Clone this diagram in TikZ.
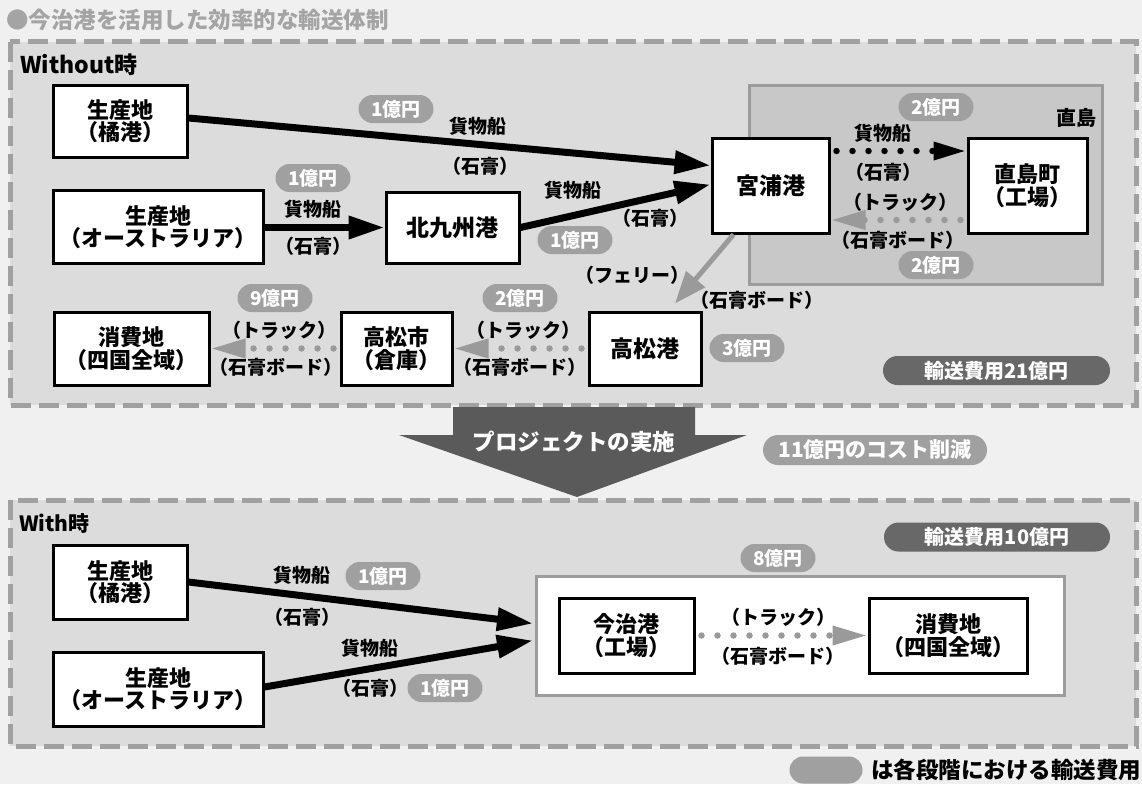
\documentclass[tikz,border=0pt]{standalone}
\usepackage{fontspec}
\setmainfont{Noto Sans CJK JP}
\usetikzlibrary{arrows.meta,calc,shapes.misc}
\definecolor{bg}{HTML}{F0F0F0}
\definecolor{panel}{HTML}{DCDCDC}
\definecolor{panelborder}{HTML}{A0A0A0}
\definecolor{pillgray}{HTML}{A0A0A0}
\definecolor{darkpill}{HTML}{686868}
\definecolor{bigarrow}{HTML}{5A5A5A}
\definecolor{islandfill}{HTML}{C8C8C8}
\definecolor{islandborder}{HTML}{9C9C9C}
\definecolor{titlegray}{HTML}{A4A4A4}
\definecolor{truckgray}{HTML}{9A9A9A}
\begin{document}
\begin{tikzpicture}[x=1pt,y=-1pt,
  box/.style={draw=black, line width=3pt, fill=white, align=center, inner sep=0pt,
    font=\bfseries\fontsize{22}{22.5}\selectfont},
  bigbox/.style={box, font=\bfseries\fontsize{23}{25}\selectfont},
  lbl/.style={font=\bfseries\fontsize{19}{21}\selectfont, inner sep=0pt},
  pill/.style={rounded rectangle, fill=pillgray, text=white, inner sep=0pt,
    minimum width=75pt, minimum height=28pt, font=\bfseries\fontsize{19}{21}\selectfont},
  dpill/.style={rounded rectangle, fill=darkpill, text=white, inner sep=0pt,
    minimum height=29pt, font=\bfseries\fontsize{20}{22}\selectfont},
  panelbox/.style={fill=panel, draw=panelborder, line width=5pt, dash pattern=on 20pt off 8pt},
  ship/.style={line width=7pt, -{Triangle[length=36pt,width=22pt]}},
  ferry/.style={draw=truckgray, line width=5pt, -{Triangle[length=32pt,width=24pt]}},
  blackdots/.style={line width=6.5pt, line cap=round, dash pattern=on 0pt off 16pt,
    -{Triangle[length=33pt,width=17pt]}},
  graydots/.style={draw=truckgray, line width=6.5pt, line cap=round, dash pattern=on 0pt off 16pt,
    -{Triangle[length=35pt,width=18pt]}}
]
\path[fill=bg] (0,0) rectangle (1142,784);
\useasboundingbox (0,0) rectangle (1142,784);

% title
\node[anchor=west, text=titlegray, inner sep=0pt, font=\bfseries\fontsize{22.5}{24}\selectfont] (title) at (6,20) {●今治港を活用した効率的な輸送体制};

% panels
\path[panelbox] (10,42) rectangle (1136,405);
\path[panelbox] (10,500) rectangle (1136,746);

\node[anchor=west, inner sep=0pt, font=\bfseries\fontsize{23}{25}\selectfont] (without) at (20,65) {Without時};
\node[anchor=west, inner sep=0pt, font=\bfseries\fontsize{21}{23}\selectfont] (with) at (19,523) {With時};

% Naoshima island
\path[fill=islandfill, draw=islandborder, line width=3pt] (749,85) rectangle (1102,284);
\node[lbl, font=\bfseries\fontsize{20}{22}\selectfont] (naoshima) at (1076,118) {直島};

% Without nodes
\node[box, minimum width=134pt, minimum height=72pt] (tachi) at (120,121) {生産地\\（橘港）};
\node[box, minimum width=210pt, minimum height=73pt] (aus) at (158,227) {生産地\\（オーストラリア）};
\node[bigbox, minimum width=133pt, minimum height=71pt] (kita) at (452.5,227.5) {北九州港};
\node[bigbox, minimum width=117pt, minimum height=95pt] (miya) at (770.5,185.5) {宮浦港};
\node[box, minimum width=119pt, minimum height=95pt] (nao) at (1027.5,185.5) {直島町\\（工場）};
\node[box, minimum width=155pt, minimum height=73pt] (shouhi) at (131.5,348.5) {消費地\\（四国全域）};
\node[box, minimum width=111pt, minimum height=73pt] (tshi) at (396.5,348.5) {高松市\\（倉庫）};
\node[bigbox, minimum width=112pt, minimum height=73pt] (tko) at (645,348.5) {高松港};

% Without connectors
\draw[ship] ($(tachi.east)+(0,-3)$) -- ($(miya.west)+(0,-20)$);
\draw[ship] (aus.east |- kita.west) -- (kita.west);
\draw[ship] (kita.east) -- ($(miya.west)+(0,-1)$);
\draw[blackdots] ($(miya.east)+(6,-34.5)$) -- ($(nao.west)+(0,-34.5)$);
\draw[graydots] ($(nao.west)+(-6,34.5)$) -- ($(miya.east)+(0,34.5)$);
\coordinate (ferrystart) at ($(miya.south west)+(23,0)$);
\coordinate (ferryend) at ($(tko.north)+(30,-7)$);
\draw[ferry] (ferrystart) -- (ferryend);
\draw[graydots] ($(tko.west)+(-6,0)$) -- (tshi.east);
\draw[graydots] ($(tshi.west)+(-6,0)$) -- (shouhi.east);

% Without labels
\node[pill] (p1) at (396,109) {1億円};
\node[lbl] (l1) at (478,126) {貨物船};
\node[lbl] (l2) at (480,166) {（石膏）};
\node[pill] (p2) at (313,178) {1億円};
\node[lbl] (l3) at (313,209) {貨物船};
\node[lbl] (l4) at (313,246) {（石膏）};
\node[lbl] (l5) at (573,190) {貨物船};
\node[lbl] (l6) at (650,218) {（石膏）};
\node[pill] (p3) at (575,240) {1億円};
\node[pill] (p4) at (936,107) {2億円};
\node[lbl] (l7) at (883,133) {貨物船};
\node[lbl] (l8) at (883,172) {（石膏）};
\node[lbl] (l9) at (900,202) {（トラック）};
\node[lbl] (l10) at (898,240) {（石膏ボード）};
\node[pill] (p5) at (936,265) {2億円};
\node[lbl] (l11) at (632,275) {（フェリー）};
\node[lbl] (l12) at (757,300) {（石膏ボード）};
\node[pill] (p6) at (275,298) {9億円};
\node[lbl] (l13) at (279,330) {（トラック）};
\node[lbl] (l14) at (276,367) {（石膏ボード）};
\node[pill] (p7) at (520,298) {2億円};
\node[lbl] (l15) at (523,330) {（トラック）};
\node[lbl] (l16) at (520,367) {（石膏ボード）};
\node[pill] (p8) at (747,348) {3億円};
\node[dpill, minimum width=227pt] (total1) at (996.5,370.5) {輸送費用21億円};

% big arrow
\path[fill=bigarrow] (453,407) -- (695,407) -- (695,435) -- (747,435) -- (577,497) -- (399,435) -- (453,435) -- cycle;
\node[text=white, inner sep=0pt, font=\bfseries\fontsize{22.5}{24}\selectfont] (proj) at (574,442) {プロジェクトの実施};
\node[rounded rectangle, fill=pillgray, text=white, inner sep=0pt, minimum width=224pt, minimum height=30pt,
  font=\bfseries\fontsize{21}{23}\selectfont] (cut) at (875,450) {11億円のコスト削減};

% With nodes
\node[dpill, minimum width=226pt] (total2) at (997,537) {輸送費用10億円};
\node[pill] (p9) at (778,558) {8億円};
\path[fill=white, draw=islandborder, line width=3pt] (536,576) rectangle (1064,695);
\coordinate (bigwest) at (536,635.5);
\node[box, minimum width=134pt, minimum height=74pt] (tachi2) at (120,582) {生産地\\（橘港）};
\node[box, minimum width=210pt, minimum height=74pt] (aus2) at (158,689) {生産地\\（オーストラリア）};
\node[box, minimum width=135pt, minimum height=75pt] (ima) at (626.5,635.5) {今治港\\（工場）};
\node[box, minimum width=158pt, minimum height=75pt] (shouhi2) at (948,635.5) {消費地\\（四国全域）};

\draw[ship] (tachi2.east) -- ($(bigwest)+(-3,-12)$);
\draw[ship] ($(aus2.east)+(0,-2)$) -- ($(bigwest)+(-3,5)$);
\draw[graydots] ($(ima.east)+(6,0)$) -- (shouhi2.west);

\node[lbl] (l17) at (302,575) {貨物船};
\node[pill] (p10) at (383,576) {1億円};
\node[lbl] (l18) at (302,617) {（石膏）};
\node[lbl] (l19) at (370,648) {貨物船};
\node[lbl] (l20) at (370,688) {（石膏）};
\node[pill] (p11) at (445,688) {1億円};
\node[lbl] (l21) at (778,617) {（トラック）};
\node[lbl] (l22) at (778,656) {（石膏ボード）};

% legend
\node[rounded rectangle, fill=pillgray, inner sep=0pt, minimum width=73pt, minimum height=27pt] (legpill) at (826,770) {};
\node[anchor=west, inner sep=0pt, font=\bfseries\fontsize{22.5}{24}\selectfont] (legtext) at (871,770) {は各段階における輸送費用};
\end{tikzpicture}
\end{document}
